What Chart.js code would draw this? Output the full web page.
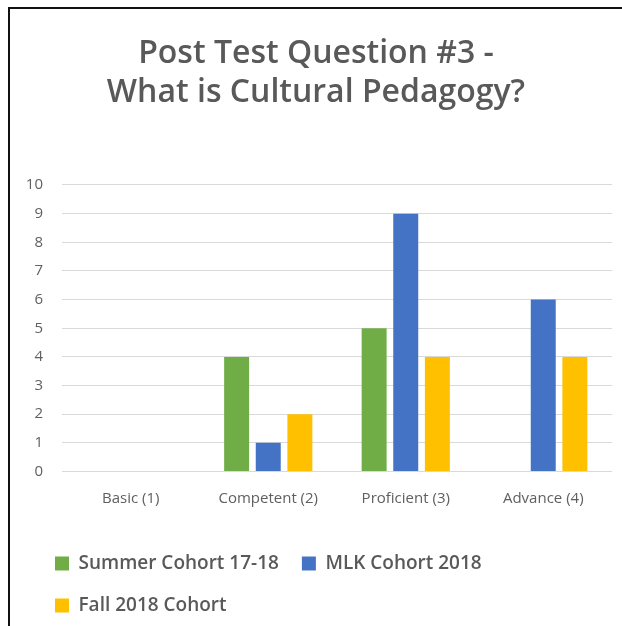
<!DOCTYPE html>
<html>
<head>
<meta charset="utf-8">
<script src="https://cdn.jsdelivr.net/npm/chart.js@4/dist/chart.umd.min.js"></script>
<style>
  html, body { margin: 0; padding: 0; background: #ffffff; }
  #wrap { position: relative; width: 622px; height: 626px; }
  #frame { position: absolute; left: 8px; top: 7px; right: -4px; bottom: -4px; border-left: 2px solid #111; border-top: 2px solid #111; pointer-events: none; }
  canvas { position: absolute; left: 0; top: 0; }
</style>
</head>
<body>
<div id="wrap">
  <canvas id="c" width="622" height="626"></canvas>
  <div id="frame"></div>
</div>
<script>
const categories = ["Basic (1)", "Competent (2)", "Proficient (3)", "Advance (4)"];
const seriesNames = ["Summer Cohort 17-18", "MLK Cohort 2018", "Fall 2018 Cohort"];
const summerCohort = [0, 4, 5, 0];
const mlkCohort = [0, 1, 9, 6];
const fallCohort = [0, 2, 4, 4];
const titleLines = ["Post Test Question #3 -", "What is Cultural Pedagogy?"];
const yTicks = [0, 1, 2, 3, 4, 5, 6, 7, 8, 9, 10];

const colors = ["#70AD47", "#4472C4", "#FFC000"];
const FONT = "'Open Sans', 'Noto Sans', sans-serif";

const legendShift = {
  id: "legendShift",
  afterLayout(chart) {
    if (chart.legend) { chart.legend.left += 12; }
  }
};

new Chart(document.getElementById("c"), {
  type: "bar",
  data: {
    labels: categories,
    datasets: [summerCohort, mlkCohort, fallCohort].map((d, i) => ({
      label: seriesNames[i],
      data: d,
      backgroundColor: colors[i],
      borderWidth: 0,
      categoryPercentage: 0.69,
      barPercentage: 0.79
    }))
  },
  plugins: [legendShift],
  options: {
    responsive: false,
    animation: false,
    devicePixelRatio: 1,
    layout: { padding: { left: 20, right: 10, top: 0, bottom: 1 } },
    plugins: {
      title: {
        display: true,
        text: titleLines,
        color: "#595959",
        font: { family: FONT, size: 32, weight: "600", lineHeight: 1.22 },
        padding: { top: 34.5, bottom: 72.4 }
      },
      legend: {
        display: true,
        position: "bottom",
        align: "start",
        labels: {
          color: "#595959",
          font: { family: FONT, size: 19, weight: "600" },
          boxWidth: 14,
          boxHeight: 14,
          padding: 23
        }
      },
      tooltip: { enabled: false }
    },
    scales: {
      x: {
        grid: { display: false, drawTicks: false },
        border: { display: false },
        ticks: { color: "#606060", font: { family: FONT, size: 15 }, padding: 18 },
        afterFit: (s) => { s.height += 5.5; }
      },
      y: {
        min: 0,
        max: 10,
        afterBuildTicks: (s) => { s.ticks = yTicks.map(v => ({ value: v })); },
        grid: { color: "#d9d9d9", lineWidth: 1, drawTicks: false },
        border: { display: false },
        ticks: { color: "#606060", font: { family: FONT, size: 15 }, padding: 19 },
        afterFit: (s) => { s.width = 42; }
      }
    }
  }
});
</script>
</body>
</html>
